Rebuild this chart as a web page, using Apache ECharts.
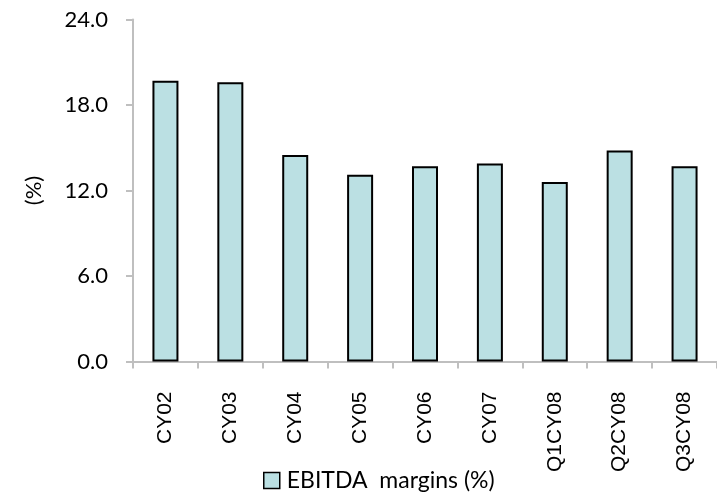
<!DOCTYPE html>
<html>
<head>
<meta charset="utf-8">
<script src="https://cdn.jsdelivr.net/npm/echarts@6/dist/echarts.min.js"></script>
<style>
  html, body { margin: 0; padding: 0; background: #fff; }
  #chart { width: 717px; height: 493px; }
</style>
</head>
<body>
<div id="chart"></div>
<script>
// EBITDA margin by period
const categories = ['CY02', 'CY03', 'CY04', 'CY05', 'CY06', 'CY07', 'Q1CY08', 'Q2CY08', 'Q3CY08'];
const ebitdaMargins = [19.7, 19.6, 14.5, 13.1, 13.7, 13.9, 12.6, 14.8, 13.7];
const yTicks = [0, 6, 12, 18, 24];
const seriesName = 'EBITDA  margins (%)';

const chart = echarts.init(document.getElementById('chart'));
const axisGray = '#bfbfbf';
const calibriLike = 'Lato, "Open Sans", sans-serif';

chart.setOption({
  animation: false,
  backgroundColor: '#fff',
  grid: { left: 133, top: 19.5, width: 594, height: 342 },
  legend: {
    data: [seriesName],
    left: 263,
    top: 469,
    padding: 0,
    icon: 'rect',
    itemWidth: 16,
    itemHeight: 16,
    itemGap: 6,
    itemStyle: { borderColor: '#000', borderWidth: 1.5 },
    textStyle: { fontFamily: calibriLike, fontSize: 23, color: '#000', padding: [0, 0, 0, 2] }
  },
  xAxis: {
    type: 'category',
    data: categories,
    axisLine: { lineStyle: { color: axisGray, width: 2 } },
    axisTick: { show: true, length: 7, lineStyle: { color: axisGray, width: 2 } },
    axisLabel: {
      rotate: 90,
      margin: 30,
      fontFamily: '"Liberation Sans", Arial, sans-serif',
      fontSize: 21,
      color: '#000'
    }
  },
  yAxis: {
    type: 'value',
    min: yTicks[0],
    max: yTicks[yTicks.length - 1],
    interval: yTicks[1] - yTicks[0],
    name: '(%)',
    nameLocation: 'middle',
    nameGap: 88,
    nameRotate: 90,
    nameTextStyle: { fontFamily: calibriLike, fontSize: 22, color: '#000' },
    splitLine: { show: false },
    axisLine: { show: true, lineStyle: { color: axisGray, width: 2 } },
    axisTick: { show: true, length: 7, lineStyle: { color: axisGray, width: 2 } },
    axisLabel: {
      margin: 25,
      fontFamily: calibriLike,
      fontSize: 22,
      color: '#000',
      formatter: v => v.toFixed(1)
    }
  },
  series: [{
    name: seriesName,
    type: 'bar',
    data: ebitdaMargins,
    barWidth: 26,
    itemStyle: { color: '#bbe0e3', borderColor: '#000', borderWidth: 2 }
  }]
});
</script>
</body>
</html>
